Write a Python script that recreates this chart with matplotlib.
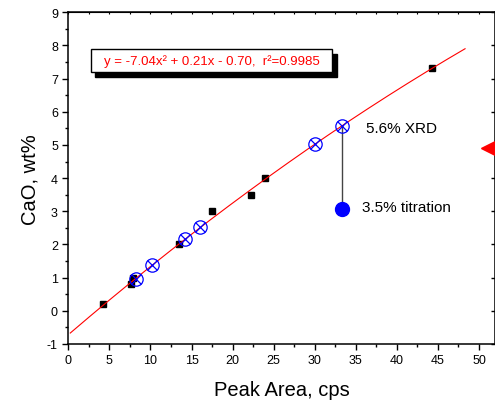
import numpy as np
import matplotlib
matplotlib.use('Agg')
import matplotlib.pyplot as plt
from matplotlib.patches import Rectangle
from matplotlib.ticker import MultipleLocator

plt.rcParams['font.family'] = ['Liberation Sans', 'DejaVu Sans']
plt.rcParams['axes.unicode_minus'] = False

# Standards (black squares)
std_x = [4.2, 7.65, 7.9, 13.45, 17.45, 22.2, 23.95, 44.25]
std_y = [0.2, 0.8, 1.0, 2.0, 3.0, 3.5, 4.0, 7.33]

# XRD samples (open circle with cross)
xrd_x = [8.2, 10.2, 14.25, 16.05, 30.0, 33.3]
xrd_y = [0.97, 1.37, 2.17, 2.52, 5.03, 5.58]

# Titration result (filled blue circle)
titr_x = [33.3]
titr_y = [3.08]

# Off-scale marker at the right edge
edge_x = [51.5]
edge_y = [4.92]

# Quadratic calibration fit (c0, c1, c2) and its x range
fit_coef = [-0.72, 0.2125, -7.04e-4]
fit_range = [0.24, 48.3]

equation = 'y = -7.04x\u00b2 + 0.21x - 0.70,  r\u00b2=0.9985'

fig = plt.figure(figsize=(4.95, 4.02), dpi=100)
ax = fig.add_axes([0.138, 0.1418, 0.8629, 0.8251])

# Fit curve
xf = np.linspace(fit_range[0], fit_range[1], 200)
yf = fit_coef[0] + fit_coef[1] * xf + fit_coef[2] * xf ** 2

ax.plot(std_x, std_y, 's', color='black', markersize=4.8, zorder=3)
ax.plot(xf, yf, color='red', linewidth=0.8, zorder=4)
ax.plot([xrd_x[-1], titr_x[0]], [xrd_y[-1], titr_y[0]], color='#444444', linewidth=1.0, zorder=2)
ax.plot(xrd_x, xrd_y, 'o', markerfacecolor='none', markeredgecolor='blue',
        markersize=9.6, markeredgewidth=0.9, zorder=5)
ax.plot(xrd_x, xrd_y, 'x', color='blue', markersize=6.8, markeredgewidth=0.9, zorder=5)
ax.plot(titr_x, titr_y, 'o', color='blue', markersize=10, zorder=5)
ax.plot(edge_x, edge_y, '<', color='red', markersize=15, clip_on=False, zorder=5)

# Annotations
ax.text(36.24, 5.5, '5.6% XRD', fontsize=11, va='center', ha='left')
ax.text(35.7, 3.12, '3.5% titration', fontsize=11, va='center', ha='left')

# Equation box with drop shadow
ax.add_patch(Rectangle((0.062, 0.806), 0.566, 0.069, transform=ax.transAxes,
                       facecolor='black', edgecolor='black', zorder=6))
ax.add_patch(Rectangle((0.052, 0.821), 0.566, 0.069, transform=ax.transAxes,
                       facecolor='white', edgecolor='black', linewidth=1.0, zorder=7))
ax.text(0.335, 0.8555, equation, transform=ax.transAxes, color='red',
        fontsize=9.5, ha='center', va='center', zorder=8)

# Axes
ax.set_xlim(0, 52)
ax.set_ylim(-1, 9)
ax.xaxis.set_major_locator(MultipleLocator(5))
ax.xaxis.set_minor_locator(MultipleLocator(2.5))
ax.yaxis.set_major_locator(MultipleLocator(1))
ax.yaxis.set_minor_locator(MultipleLocator(0.5))
ax.tick_params(which='major', direction='out', length=4, width=1.0, labelsize=9)
ax.tick_params(which='minor', direction='out', length=2.5, width=1.0)
for s in ax.spines.values():
    s.set_linewidth(1.1)

right = ax.secondary_yaxis('right')
right.yaxis.set_major_locator(MultipleLocator(1))
right.tick_params(direction='in', length=3, width=1.0, labelright=False)

top = ax.secondary_xaxis('top')
top.xaxis.set_major_locator(MultipleLocator(5))
top.xaxis.set_minor_locator(MultipleLocator(2.5))
top.tick_params(which='both', direction='in', length=1.5, width=0.8, labeltop=False)

ax.set_xlabel('Peak Area, cps', fontsize=14.5, labelpad=10)
ax.set_ylabel('CaO, wt%', fontsize=14.5, labelpad=5)

fig.savefig('out.png', dpi=100)
